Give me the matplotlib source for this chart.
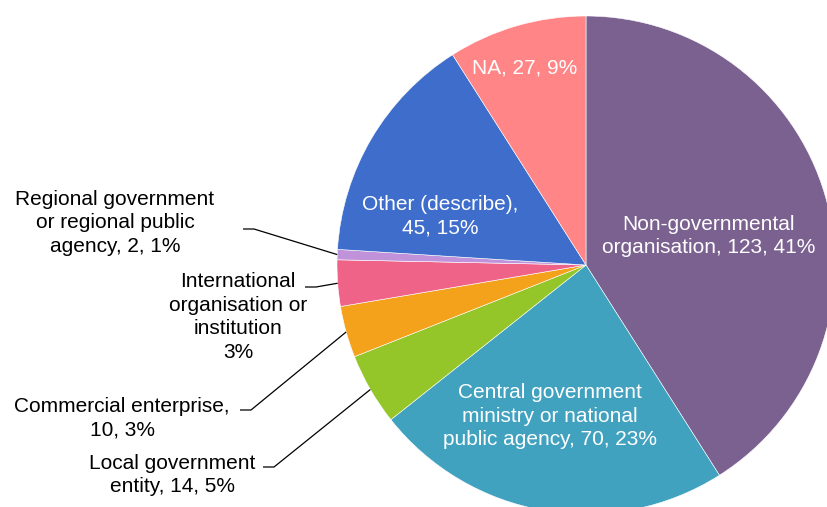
import numpy as np
import matplotlib
matplotlib.use("Agg")
from matplotlib import pyplot as plt

plt.rcParams["font.family"] = ["Liberation Sans", "DejaVu Sans"]

# respondents by type of organisation
counts = [123, 70, 14, 10, 9, 2, 45, 27]
labels = ["Non-governmental\norganisation, 123, 41%",
          "Central government\nministry or national\npublic agency, 70, 23%",
          "Local government\nentity, 14, 5%",
          "Commercial enterprise,\n10, 3%",
          "International\norganisation or\ninstitution\n3%",
          "Regional government\nor regional public\nagency, 2, 1%",
          "Other (describe),\n45, 15%",
          "NA, 27, 9%"]
colors = ["#7b6190", "#41a2c0", "#94c62a", "#f4a21c", "#ef6389", "#c092d9", "#3e6dcb", "#ff8587"]

W, H = 827, 507
fig = plt.figure(figsize=(W / 100, H / 100), dpi=100)
ax = fig.add_axes([0, 0, 1, 1])

cx, cy, r = 586, H - 265, 249
wedges, _ = ax.pie(counts, colors=colors, startangle=90, counterclock=False,
                   center=(cx, cy), radius=r,
                   wedgeprops=dict(edgecolor="white", linewidth=0.4))
ax.set_xlim(0, W)
ax.set_ylim(0, H)
ax.set_aspect("equal")
ax.axis("off")

fs = 15
ls = 1.3
# labels inside the big slices (pixel positions, y from top)
inside = {0: (709, 236), 1: (550, 416), 6: (440, 216), 7: (525, 68)}
for i, (x, y) in inside.items():
    ax.text(x, H - y, labels[i], color="white", fontsize=fs, ha="center", va="center",
            linespacing=ls)

# small slices: label outside with leader line to the slice midpoint
outside = {5: ((115, 223), (243, 229)),
           4: ((238, 317), (305, 287)),
           3: ((122, 418), (240, 410)),
           2: ((172, 475), (263, 467))}
for i, ((tx, ty), (lx, ly)) in outside.items():
    ax.text(tx, H - ty, labels[i], color="black", fontsize=fs, ha="center", va="center",
            linespacing=ls)
    w = wedges[i]
    mid = np.deg2rad((w.theta1 + w.theta2) / 2)
    ex, ey = cx + r * np.cos(mid), cy + r * np.sin(mid)
    ax.plot([lx, lx + 11, ex], [H - ly, H - ly, ey], color="black", lw=0.9,
            solid_capstyle="butt")

fig.savefig("out.png", dpi=100)
